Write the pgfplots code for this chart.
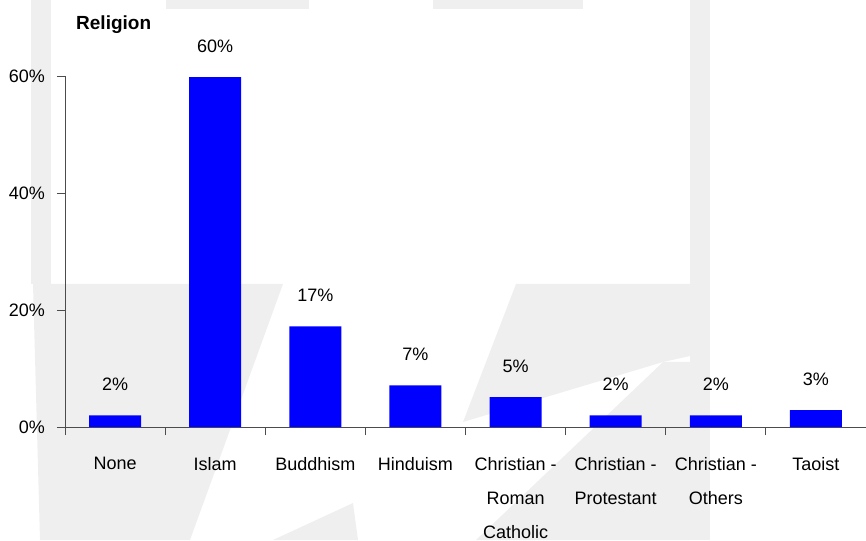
\documentclass[border=0pt]{standalone}
\usepackage{pgfplots}
\pgfplotsset{compat=1.18}
\usepackage{fontspec}
\setmainfont{Liberation Sans}
\definecolor{wm}{RGB}{239,239,239}
\begin{document}
\begin{tikzpicture}[x=1pt,y=1pt]
\useasboundingbox (-65,-113) rectangle (801,427);
% faint background watermark (pixel coordinates of the reference)
\begin{scope}[shift={(-65,427)}, yscale=-1]
  \fill[wm] (31,0) rectangle (51,284);
  \fill[wm] (166,0) rectangle (309,9);
  \fill[wm] (433,0) rectangle (583,9);
  \fill[wm] (690,0) rectangle (710,540);
  \fill[wm] (33,284) -- (283,284) -- (230,430) -- (190,540) -- (40,540) -- cycle;
  \fill[wm] (353,503) -- (358,540) -- (273,540) -- cycle;
  \fill[wm] (516,284) -- (690,284) -- (690,356) -- (663,362) -- (463,422) -- cycle;
  \fill[wm] (663,362) -- (690,362) -- (690,540) -- (476,540) -- cycle;
\end{scope}
\begin{axis}[
  at={(0,0)}, anchor=south west,
  scale only axis, width=801pt, height=351pt,
  xmin=-0.5, xmax=7.5, ymin=0, ymax=60,
  axis x line*=bottom, axis y line*=left,
  axis line style={black!70, line width=0.9pt},
  every tick/.style={black!70, line width=0.9pt},
  tick align=outside,
  ytick={0,20,40,60},
  yticklabels={0\%,20\%,40\%,60\%},
  major tick length=8pt,
  xtick={0,...,7},
  xticklabels={None,Islam,Buddhism,Hinduism,Christian -\\Roman\\Catholic,Christian -\\Protestant,Christian -\\Others,Taoist},
  x tick style={draw=none},
  extra x ticks={-0.5,0.5,1.5,2.5,3.5,4.5,5.5,6.5},
  extra x tick labels={},
  extra x tick style={x tick style={draw=black!70, line width=0.9pt}},
  xticklabel style={anchor=north, inner sep=0pt, yshift=-22pt, align=center, font=\fontsize{18}{34}\selectfont, text=black},
  yticklabel style={anchor=east, inner sep=0pt, xshift=-12pt, font=\fontsize{18}{21}\selectfont, text=black},
  ybar, bar width=52pt,
  nodes near coords,
  point meta=explicit symbolic,
  every node near coord/.append style={anchor=base, yshift=25pt, font=\fontsize{18}{21}\selectfont, text=black},
  clip=false,
]
\addplot[fill={rgb,255:red,0;green,0;blue,255}, draw=none] coordinates {
  (0,2.0) [2\%]
  (1,59.8) [60\%]
  (2,17.2) [17\%]
  (3,7.1) [7\%]
  (4,5.1) [5\%]
  (5,2.0) [2\%]
  (6,2.0) [2\%]
  (7,2.9) [3\%]
};
\node[anchor=west, inner sep=0pt, font=\fontsize{19}{22}\selectfont\bfseries] at (rel axis cs:0,0) [xshift=11pt, yshift=402pt] {Religion};
\end{axis}
\end{tikzpicture}
\end{document}
